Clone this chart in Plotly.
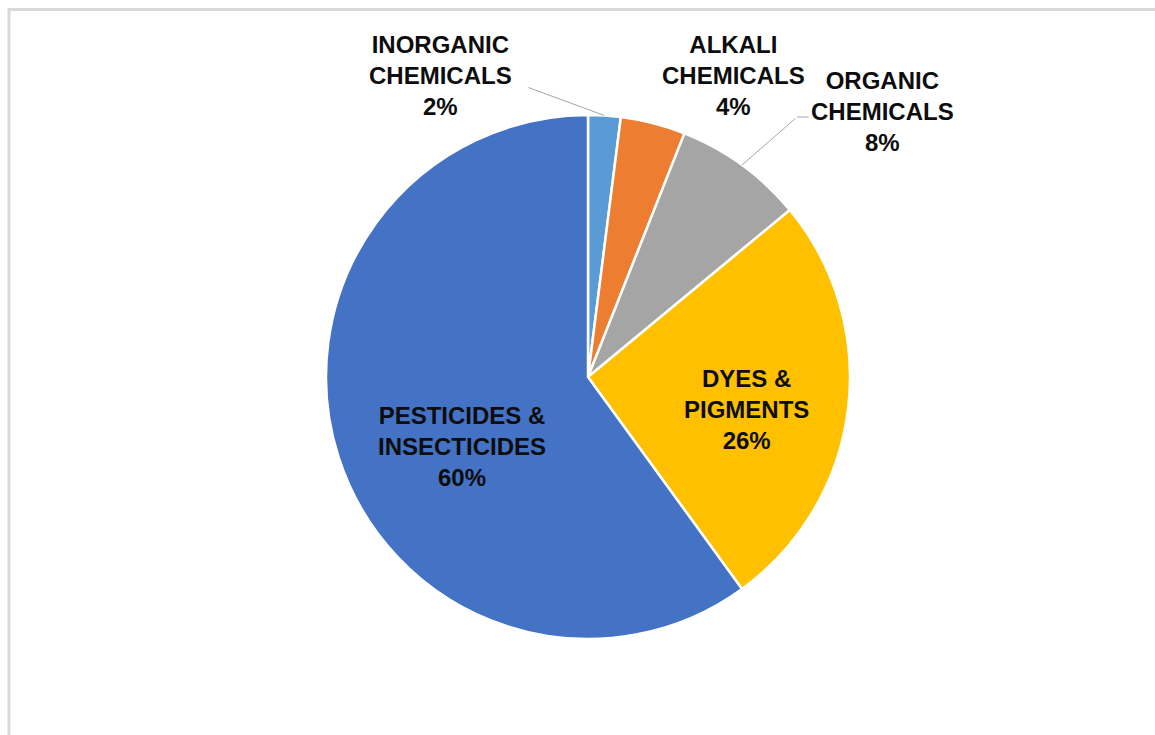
import math
import plotly.graph_objects as go

W, H = 1155, 735

labels = ["INORGANIC<br>CHEMICALS", "ALKALI<br>CHEMICALS", "ORGANIC<br>CHEMICALS",
          "DYES &<br>PIGMENTS", "PESTICIDES &<br>INSECTICIDES"]
values = [2, 4, 8, 26, 60]
colors = ["#5B9BD5", "#ED7D31", "#A5A5A5", "#FFC000", "#4472C4"]

# label placement (pixels from top-left), chosen by eye
label_pos = [(440, 76), (733, 76), (882, 111), (746, 410), (462, 446)]

FONT = "Liberation Sans, Arial, sans-serif"
CX, CY, R = 588, 377, 262


def px(x, y):
    return x / W, 1 - y / H


def edge_point(i):
    # middle of slice i on the rim (clockwise from 12 o'clock)
    total = sum(values)
    start = sum(values[:i]) / total
    mid = (start + values[i] / total / 2) * 2 * math.pi
    return CX + R * math.sin(mid), CY - R * math.cos(mid)


fig = go.Figure(go.Pie(
    labels=[l.replace("<br>", " ") for l in labels], values=values,
    marker=dict(colors=colors, line=dict(color="white", width=2.5)),
    sort=False, direction="clockwise", rotation=0,
    textinfo="none", hoverinfo="label+percent",
    domain=dict(x=[(CX - R) / W, (CX + R) / W], y=[1 - (CY + R) / H, 1 - (CY - R) / H]),
    showlegend=False,
))

annotations = []
for lab, v, (x, y) in zip(labels, values, label_pos):
    ax, ay = px(x, y)
    annotations.append(dict(
        x=ax, y=ay, xref="paper", yref="paper", showarrow=False,
        xanchor="center", yanchor="middle",
        text=f"<b>{lab}<br>{v}%</b>", align="center",
        font=dict(family=FONT, size=24, color="#0d0d0d"),
    ))

# leader lines for the two small outside labels
leaders = [(0, [(527, 87)]), (2, [(810, 117), (797, 117)])]
for i, pts in leaders:
    ex, ey = edge_point(i)
    chain = pts + [(ex, ey)]
    for (x0, y0), (x1, y1) in zip(chain[:-1], chain[1:]):
        bx, by = px(x1, y1)
        annotations.append(dict(
            x=bx, y=by, xref="paper", yref="paper", text="",
            showarrow=True, arrowhead=0, arrowwidth=1, arrowcolor="#a6a6a6",
            ax=x0 - x1, ay=y0 - y1, axref="pixel", ayref="pixel",
        ))

fig.update_layout(
    width=W, height=H,
    margin=dict(l=0, r=0, t=0, b=0),
    paper_bgcolor="white", plot_bgcolor="white",
    annotations=annotations,
    shapes=[dict(type="rect", xref="paper", yref="paper",
                 x0=9 / W, x1=1.05, y0=-0.05, y1=1 - 9.5 / H,
                 line=dict(color="#d9d9d9", width=3), layer="below")],
)

fig.write_html("out.html", config={"displayModeBar": False},
               post_script="document.body.style.margin='0';")
